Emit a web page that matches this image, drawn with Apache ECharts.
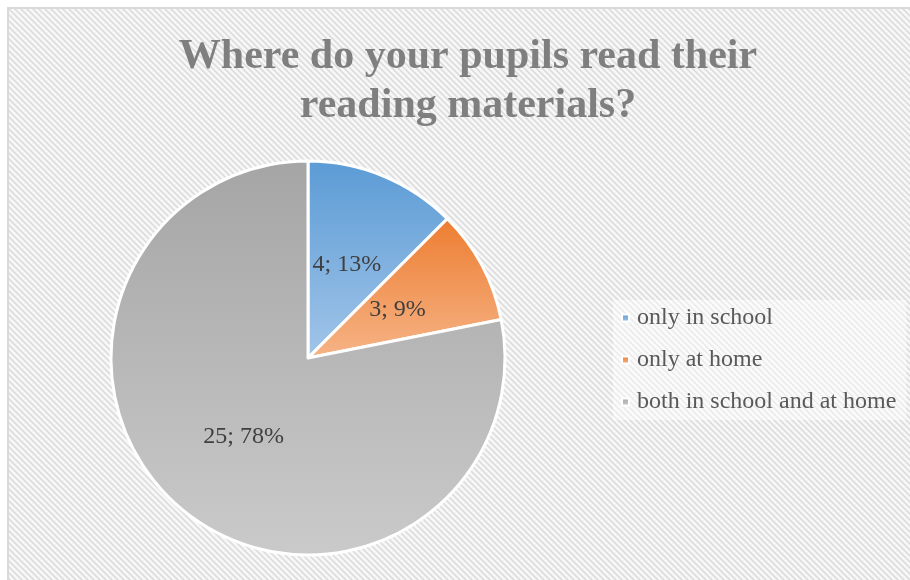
<!DOCTYPE html>
<html>
<head>
<meta charset="utf-8">
<script src="https://cdn.jsdelivr.net/npm/echarts@6/dist/echarts.min.js"></script>
<style>
html,body{margin:0;padding:0;background:#fff;}
#chart{width:910px;height:580px;}
</style>
</head>
<body>
<div id="chart"></div>
<script>
var titleLines = ['Where do your pupils read their', 'reading materials?'];
var categories = ['only in school', 'only at home', 'both in school and at home'];
var values = [4, 3, 25];
var gradTop = ['#5b9bd5', '#ed7d31', '#a5a5a5'];
var gradBottom = ['#a2c5e9', '#f6b487', '#cacaca'];

function makePattern() {
  var n = 6;
  var c = document.createElement('canvas');
  c.width = n; c.height = n;
  var ctx = c.getContext('2d');
  var img = ctx.createImageData(n, n);
  for (var y = 0; y < n; y++) {
    for (var x = 0; x < n; x++) {
      var k = ((x - y) % n + n) % n;
      var v = (k === 0) ? 0xdb : (k === 1 || k === 5) ? 0xe6 : 0xf7;
      var i = (y * n + x) * 4;
      img.data[i] = v; img.data[i + 1] = v; img.data[i + 2] = v; img.data[i + 3] = 255;
    }
  }
  ctx.putImageData(img, 0, 0);
  return c;
}

var data = categories.map(function (name, i) {
  return {
    name: name,
    value: values[i],
    itemStyle: {
      color: new echarts.graphic.LinearGradient(0, 0, 0, 1, [
        { offset: 0, color: gradTop[i] },
        { offset: 1, color: gradBottom[i] }
      ])
    }
  };
});

var chart = echarts.init(document.getElementById('chart'), null, { renderer: 'canvas' });
chart.setOption({
  animation: false,
  backgroundColor: '#ffffff',
  graphic: [{
    type: 'rect',
    z: -100,
    silent: true,
    shape: { x: 8, y: 8, width: 920, height: 600 },
    style: { fill: { image: makePattern(), repeat: 'repeat' }, stroke: '#d9d9d9', lineWidth: 2 }
  }],
  title: {
    text: titleLines.join('\n'),
    left: 468,
    top: 33,
    textAlign: 'center',
    padding: 0,
    textStyle: {
      fontFamily: 'Liberation Serif',
      fontSize: 42,
      fontWeight: 'bold',
      color: '#7f7f7f',
      lineHeight: 49
    }
  },
  legend: {
    orient: 'vertical',
    left: 613,
    top: 300,
    padding: [6, 10, 6, 8],
    backgroundColor: 'rgba(255,255,255,0.45)',
    itemWidth: 7,
    itemHeight: 7,
    itemGap: 18,
    icon: 'rect',
    selectedMode: false,
    data: categories,
    textStyle: {
      fontFamily: 'Liberation Serif',
      fontSize: 24,
      color: '#595959',
      padding: [0, 0, 0, 3]
    }
  },
  series: [{
    type: 'pie',
    center: [308, 358],
    radius: 197,
    startAngle: 90,
    clockwise: true,
    avoidLabelOverlap: false,
    itemStyle: { borderColor: '#ffffff', borderWidth: 3 },
    label: {
      show: true,
      position: 'inside',
      fontFamily: 'Liberation Serif',
      fontSize: 24,
      color: '#404040',
      formatter: function (p) { return p.value + '; ' + Math.round(p.percent) + '%'; }
    },
    labelLine: { show: false },
    emphasis: { disabled: true },
    data: data
  }]
});
</script>
</body>
</html>
